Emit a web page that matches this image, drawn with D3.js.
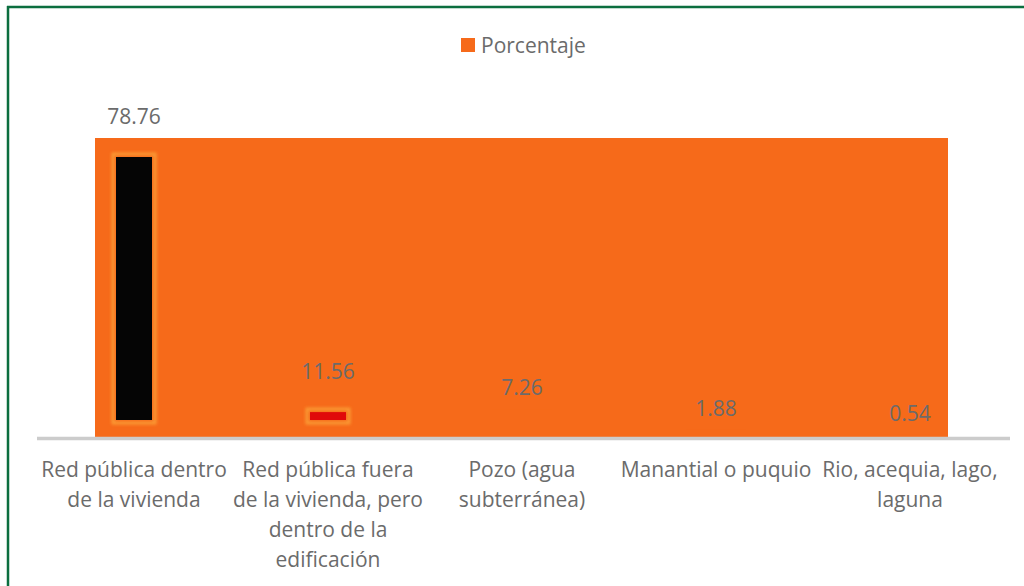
<!DOCTYPE html>
<html>
<head>
<meta charset="utf-8">
<script src="https://cdn.jsdelivr.net/npm/d3@7"></script>
<style>
  body { margin: 0; background: #fff; }
  svg { display: block; font-family: "Open Sans", sans-serif; }
</style>
</head>
<body>
<svg id="chart" width="1024" height="586"></svg>
<script>
// data
const categories = [
  ["Red pública dentro", "de la vivienda"],
  ["Red pública fuera", "de la vivienda, pero", "dentro de la", "edificación"],
  ["Pozo (agua", "subterránea)"],
  ["Manantial o puquio"],
  ["Rio, acequia, lago,", "laguna"]
];
const porcentaje = [78.76, 11.56, 7.26, 1.88, 0.54];
const seriesName = "Porcentaje";
const innerColors = ["#050505", "#e00a0a", "#f46a22", "#f46a22", "#f46a22"];

const orange = "#f66a1a";
const textGrey = "#6b6b6b";

const svg = d3.select("#chart");
const width = 1024, height = 586;

// frame (green top / left edge)
svg.append("line").attr("x1", 7).attr("x2", width).attr("y1", 7).attr("y2", 7)
  .attr("stroke", "#0b6e3f").attr("stroke-width", 2.5);
svg.append("line").attr("x1", 8).attr("x2", 8).attr("y1", 6).attr("y2", height)
  .attr("stroke", "#0b6e3f").attr("stroke-width", 2.5);

const margin = {top: 138, left: 37, right: 17, bottom: 149};
const x = d3.scaleBand()
  .domain(d3.range(categories.length))
  .range([margin.left, width - margin.right])
  .paddingInner(0)
  .paddingOuter(0);
const y = d3.scaleLinear()
  .domain([0, d3.max(porcentaje)])
  .range([height - margin.bottom, margin.top]);

const defs = svg.append("defs");
defs.append("filter").attr("id", "glow")
  .attr("x", "-50%").attr("y", "-50%").attr("width", "200%").attr("height", "200%")
  .append("feGaussianBlur").attr("stdDeviation", 1.8);

// plot area fill
svg.append("rect")
  .attr("x", x(0) + 58)
  .attr("y", y.range()[1])
  .attr("width", x(categories.length - 1) + x.bandwidth() - 59 - (x(0) + 58))
  .attr("height", y(0) - y.range()[1])
  .attr("fill", orange);

// bars (same tone as plot area) with their inner marks
const g = svg.append("g");
g.selectAll("rect.bar")
  .data(porcentaje)
  .enter().append("rect")
  .attr("class", "bar")
  .attr("x", (d, i) => x(i) + x.bandwidth() / 2 - 30)
  .attr("y", d => y(d))
  .attr("width", 60)
  .attr("height", d => y(0) - y(d))
  .attr("fill", orange);

const inner = porcentaje.map((d, i) => ({v: d, i: i, top: y(d) + 19, bottom: y(0) - 17}))
  .filter(d => d.bottom - d.top > 0);

g.selectAll("rect.halo")
  .data(inner)
  .enter().append("rect")
  .attr("class", "halo")
  .attr("x", d => x(d.i) + x.bandwidth() / 2 - 21)
  .attr("y", d => d.top - 3)
  .attr("width", 42)
  .attr("height", d => d.bottom - d.top + 6)
  .attr("fill", "none")
  .attr("stroke", "#fba53a")
  .attr("stroke-width", 3)
  .attr("opacity", 0.85)
  .attr("filter", "url(#glow)");

g.selectAll("rect.inner")
  .data(inner)
  .enter().append("rect")
  .attr("class", "inner")
  .attr("x", d => x(d.i) + x.bandwidth() / 2 - 18)
  .attr("y", d => d.top)
  .attr("width", 36)
  .attr("height", d => d.bottom - d.top)
  .attr("fill", d => innerColors[d.i]);

// value labels
g.selectAll("text.val")
  .data(porcentaje)
  .enter().append("text")
  .attr("class", "val")
  .attr("x", (d, i) => x(i) + x.bandwidth() / 2)
  .attr("y", d => y(d) - 14)
  .attr("text-anchor", "middle")
  .attr("font-size", 21)
  .attr("fill", textGrey)
  .text(d => d.toFixed(2));

// axis baseline
svg.append("line")
  .attr("x1", x.range()[0]).attr("x2", x.range()[1] + 3)
  .attr("y1", y(0) + 1.5).attr("y2", y(0) + 1.5)
  .attr("stroke", "#cccccc").attr("stroke-width", 3.5);

// category labels
const cat = svg.append("g").selectAll("text")
  .data(categories)
  .enter().append("text")
  .attr("x", (d, i) => x(i) + x.bandwidth() / 2)
  .attr("y", y(0) + 40)
  .attr("text-anchor", "middle")
  .attr("font-size", 21)
  .attr("fill", textGrey);
cat.selectAll("tspan")
  .data(d => d)
  .enter().append("tspan")
  .attr("x", function() { return this.parentNode.getAttribute("x"); })
  .attr("dy", (d, i) => i === 0 ? 0 : 30)
  .text(d => d);

// legend
const lg = svg.append("g").attr("transform", "translate(461,38)");
lg.append("rect").attr("width", 14).attr("height", 14).attr("fill", orange);
lg.append("text").attr("x", 20).attr("y", 15).attr("font-size", 21)
  .attr("fill", textGrey).text(seriesName);
</script>
</body>
</html>
